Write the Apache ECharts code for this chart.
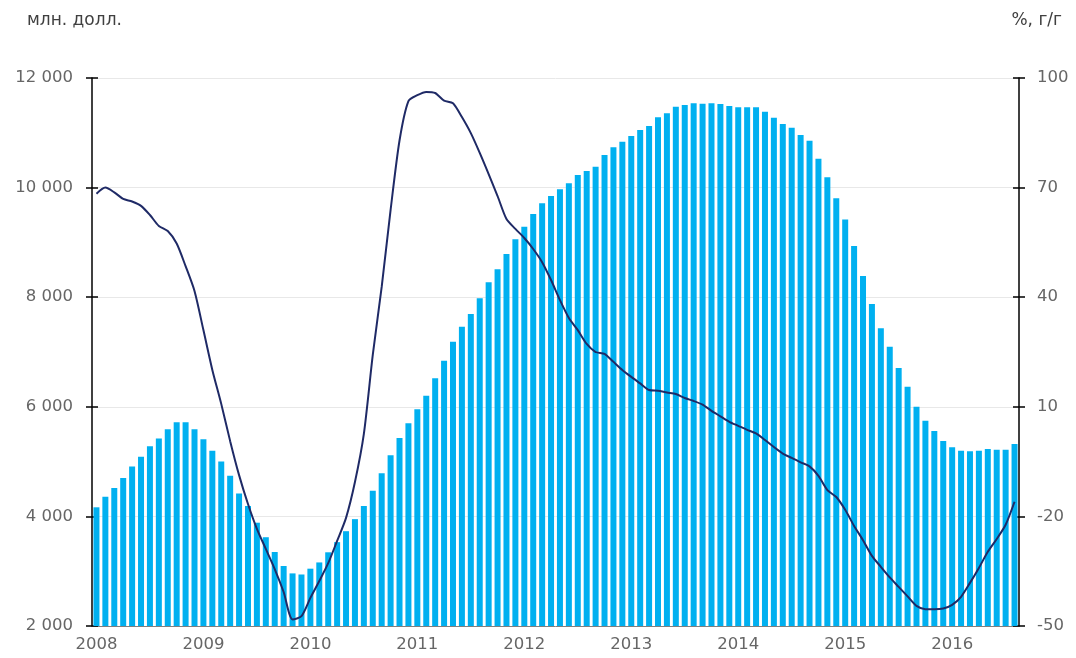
<!DOCTYPE html>
<html>
<head>
<meta charset="utf-8">
<script src="https://cdn.jsdelivr.net/npm/echarts@6/dist/echarts.min.js"></script>
<style>
  html, body { margin: 0; padding: 0; background: #fff; }
  #chart { width: 1076px; height: 658px; }
</style>
</head>
<body>
<div id="chart"></div>
<script>
// годы и месяцы: янв 2008 – авг 2016
const years = [2008, 2009, 2010, 2011, 2012, 2013, 2014, 2015, 2016];
const months = [];
years.forEach(y => {
  for (let m = 1; m <= 12; m++) {
    if (y === 2016 && m > 8) break;
    months.push(y + '-' + (m < 10 ? '0' + m : m));
  }
});

// млн. долл. (левая ось)
const volume = [
  4166, 4360, 4520, 4700, 4910, 5090, 5280, 5420, 5590, 5720, 5720, 5590,
  5410, 5200, 5000, 4740, 4420, 4190, 3885, 3620, 3350, 3095, 2960, 2940,
  3046, 3160, 3345, 3530, 3730, 3950, 4190, 4470, 4786, 5115, 5430, 5700,
  5954, 6203, 6520, 6841, 7188, 7462, 7693, 7980, 8272, 8509, 8788, 9056,
  9287, 9518, 9713, 9847, 9968, 10078, 10230, 10303, 10382, 10595, 10735, 10838,
  10942, 11051, 11124, 11283, 11356, 11477, 11507, 11538, 11532, 11538, 11526, 11489,
  11465, 11465, 11465, 11385, 11276, 11160, 11093, 10960, 10856, 10527, 10187, 9804,
  9420, 8934, 8387, 7876, 7432, 7097, 6708, 6367, 6002, 5746, 5558, 5376,
  5260, 5200, 5188, 5200, 5230, 5218, 5218, 5321
];

// %, г/г (правая ось)
const growth = [
  68.3, 70.0, 68.7, 66.9, 66.2, 65.0, 62.5, 59.5, 58.1, 54.7, 48.5, 41.7,
  31.0, 20.1, 10.8, 0.6, -8.7, -16.6, -23.4, -28.9, -34.4, -40.7, -48.2, -47.3,
  -42.3, -37.7, -32.8, -26.7, -20.4, -10.6, 2.6, 24.2, 42.8, 63.9, 82.9, 93.7,
  95.3, 96.2, 95.9, 93.8, 93.1, 89.3, 84.9, 79.5, 73.7, 67.7, 61.4, 58.7,
  56.2, 53.2, 49.6, 44.7, 39.2, 34.3, 31.0, 27.2, 25.0, 24.5, 22.3, 20.1,
  18.2, 16.4, 14.6, 14.4, 13.9, 13.5, 12.4, 11.6, 10.6, 8.9, 7.4, 5.9,
  4.8, 3.7, 2.7, 0.9, -1.0, -2.8, -4.0, -5.2, -6.3, -8.9, -12.8, -14.7,
  -18.2, -22.6, -26.5, -30.8, -33.8, -36.7, -39.3, -41.9, -44.5, -45.4, -45.4, -45.2,
  -44.2, -42.0, -38.2, -34.1, -29.7, -26.2, -22.3, -16.0
];

const leftMin = 2000, leftMax = 12000, leftStep = 2000;
const rightMin = -50, rightMax = 100, rightStep = 30;

const fmtThousands = v => String(v).replace(/\B(?=(\d{3})+(?!\d))/g, ' ');

const myChart = echarts.init(document.getElementById('chart'));

const FONT = 'DejaVu Sans, Verdana, sans-serif';
const labelStyle = { color: '#666', fontSize: 16.5, fontFamily: FONT };

const option = {
  animation: false,
  textStyle: { fontFamily: FONT },
  graphic: [
    { type: 'text', left: 27, top: 12, style: { text: 'млн. долл.', fill: '#404040', font: '17px ' + FONT } },
    { type: 'text', right: 14, top: 12, style: { text: '%, г/г', fill: '#404040', font: '17px ' + FONT } }
  ],
  grid: { left: 92, right: 57, top: 78, bottom: 32 },
  xAxis: {
    type: 'category',
    data: months,
    axisLine: { onZero: false, lineStyle: { color: '#7f7f7f', width: 1 } },
    axisTick: { show: false },
    axisLabel: Object.assign({
      interval: 11,
      margin: 10,
      formatter: v => v.slice(0, 4)
    }, labelStyle),
    splitLine: { show: false }
  },
  yAxis: [
    {
      type: 'value', position: 'left',
      min: leftMin, max: leftMax, interval: leftStep,
      axisLine: { show: true, lineStyle: { color: '#000', width: 1.5 } },
      axisTick: { show: true, length: 6, lineStyle: { color: '#000', width: 1.5 } },
      axisLabel: Object.assign({ margin: 19, formatter: fmtThousands }, labelStyle),
      splitLine: { show: true, lineStyle: { color: '#e8e8e8', width: 1 } }
    },
    {
      type: 'value', position: 'right',
      min: rightMin, max: rightMax, interval: rightStep,
      axisLine: { show: true, lineStyle: { color: '#000', width: 1.5 } },
      axisTick: { show: true, length: 6, lineStyle: { color: '#000', width: 1.5 } },
      axisLabel: Object.assign({ margin: 18 }, labelStyle),
      splitLine: { show: false }
    },
    {
      // внутренние засечки левой оси
      type: 'value', position: 'left',
      min: leftMin, max: leftMax, interval: leftStep,
      axisLine: { show: false },
      axisTick: { show: true, inside: true, length: 6, lineStyle: { color: '#000', width: 1.5 } },
      axisLabel: { show: false },
      splitLine: { show: false }
    },
    {
      // внутренние засечки правой оси
      type: 'value', position: 'right',
      min: rightMin, max: rightMax, interval: rightStep,
      axisLine: { show: false },
      axisTick: { show: true, inside: true, length: 6, lineStyle: { color: '#000', width: 1.5 } },
      axisLabel: { show: false },
      splitLine: { show: false }
    }
  ],
  series: [
    {
      name: 'млн. долл.',
      type: 'bar',
      yAxisIndex: 0,
      data: volume,
      barWidth: 6,
      itemStyle: { color: '#00b0f0' }
    },
    {
      name: '%, г/г',
      type: 'line',
      yAxisIndex: 1,
      data: growth,
      smooth: 0.25,
      showSymbol: false,
      lineStyle: { color: '#1f2a66', width: 2 },
      z: 5
    }
  ]
};
myChart.setOption(option);
</script>
</body>
</html>
